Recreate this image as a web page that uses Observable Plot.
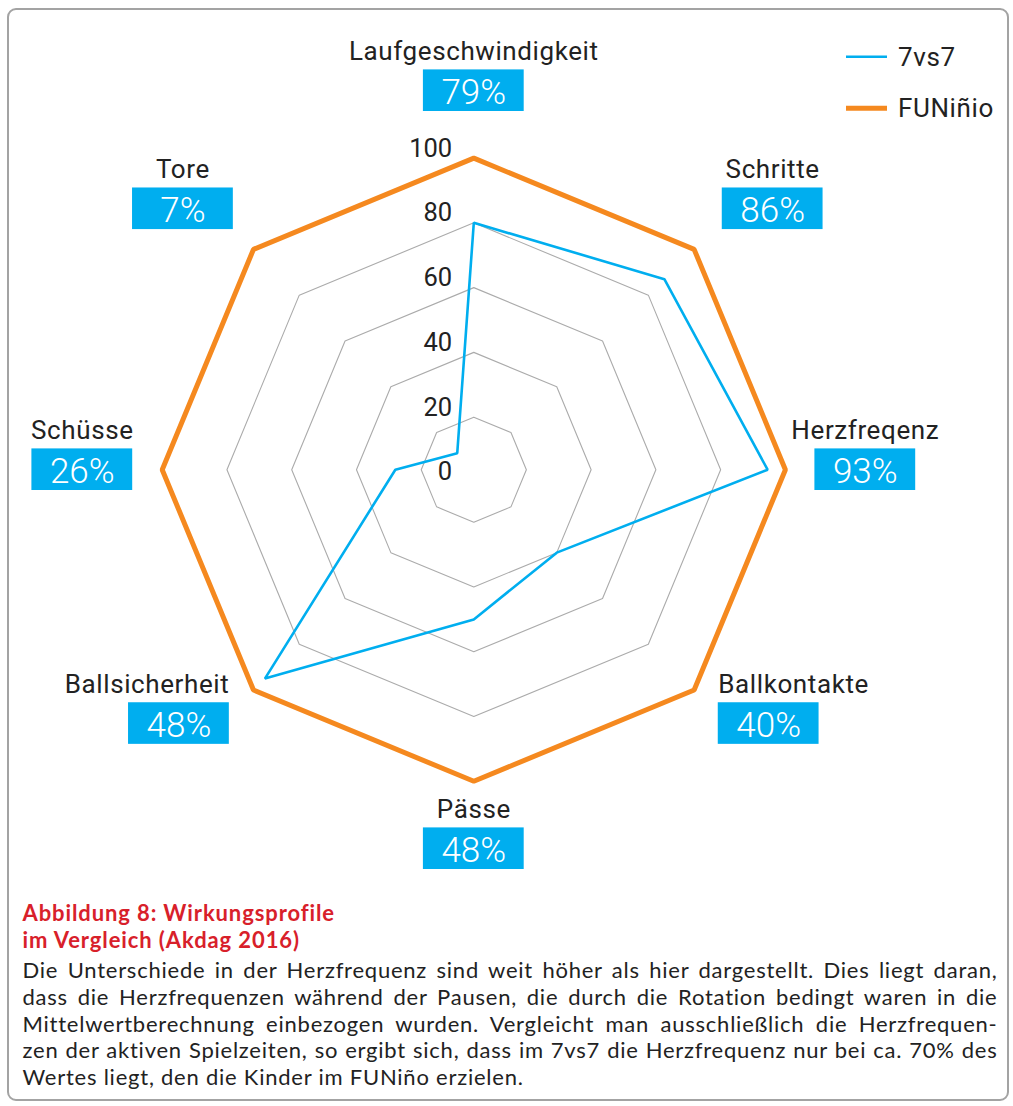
<!DOCTYPE html>
<html>
<head>
<meta charset="utf-8">
<script src="https://cdn.jsdelivr.net/npm/d3@7"></script>
<script src="https://cdn.jsdelivr.net/npm/@observablehq/plot@0.6"></script>
<style>
  body { margin: 0; background: #fff; }
  #wrap { position: relative; width: 1013px; height: 1106px; overflow: hidden; }
  .frame { position: absolute; left: 7px; top: 8px; width: 998px; height: 1089px;
           border: 2px solid #a3a3a3; border-radius: 9px; }
  #chart { position: absolute; left: 0; top: 0; }
  #caption { position: absolute; left: 22.5px; top: 900px; width: 975px; color: #222; }
  .red { color: #d8202a; font-family: Lato, "Open Sans", sans-serif; font-weight: 700;
         font-size: 22px; letter-spacing: 0.9px; line-height: 26.7px; white-space: nowrap; }
  .para { margin-top: 3.6px; font-family: Lato, Roboto, sans-serif;
          font-size: 22px; line-height: 26.75px; width: 975px; }
  .para div { text-align: justify; text-align-last: justify; white-space: nowrap; }
  .para div.last { text-align: left; text-align-last: left; }
  .measure { position: absolute; visibility: hidden; white-space: nowrap;
             font-family: Lato, Roboto, sans-serif; font-size: 22px; }
</style>
</head>
<body>
<div id="wrap">
  <div class="frame"></div>
  <div id="chart"></div>
  <div id="caption">
    <div class="red">Abbildung 8: Wirkungsprofile</div>
    <div class="red">im Vergleich (Akdag 2016)</div>
    <div class="para" id="para"></div>
  </div>
</div>
<script>
// ---- data ----
const categories = ["Laufgeschwindigkeit", "Schritte", "Herzfreqenz", "Ballkontakte", "Pässe", "Ballsicherheit", "Schüsse", "Tore"];
const values7vs7 = [80, 87, 94.5, 40, 50, 95, 28, 11];
const valuesFUNino = [100, 100, 100, 100, 100, 100, 100, 100];
const pctLabels = ["79%", "86%", "93%", "40%", "48%", "48%", "26%", "7%"];
const gridRings = [20, 40, 60, 80];
const tickValues = [0, 20, 40, 60, 80, 100];
const seriesNames = ["7vs7", "FUNiñio"];
const captionLines = [
  "Die Unterschiede in der Herzfrequenz sind weit höher als hier dargestellt. Dies liegt daran,",
  "dass die Herzfrequenzen während der Pausen, die durch die Rotation bedingt waren in die",
  "Mittelwertberechnung einbezogen wurden. Vergleicht man ausschließlich die Herzfrequen-",
  "zen der aktiven Spielzeiten, so ergibt sich, dass im 7vs7 die Herzfrequenz nur bei ca. 70% des",
  "Wertes liegt, den die Kinder im FUNiño erzielen."
];

// ---- styles ----
const BLUE = "#00aeef", ORANGE = "#f5891f", GRID = "#ababab", TEXT = "#222";
const W = 1013, H = 890, CX = 473.3, CY = 469.2;
const r = d3.scaleLinear([0, 100], [-12.2, 311.6]);
const ang = i => i * Math.PI / 4;
const px = (v, i) => r(v) * Math.sin(ang(i));
const py = (v, i) => r(v) * Math.cos(ang(i));

// label group anchor (box centre) around the web
function boxCenter(i) {
  const a = ang(i), s = Math.sin(a), c = Math.cos(a);
  const diag = Math.abs(Math.abs(s) - Math.abs(c)) < 0.1;
  const bx = s * (diag ? 417 : 391.5) + (diag && c > 0 ? 4 : 0);
  const by = c * (diag ? (c > 0 ? 369 : 359) : 379);
  const anchor = diag && c < 0 ? (s > 0 ? "start" : "end") : "middle";
  return {bx, by, anchor};
}

const series7 = categories.map((c, i) => ({c, i, v: values7vs7[i]}));
const seriesF = categories.map((c, i) => ({c, i, v: valuesFUNino[i]}));
const ringData = gridRings.flatMap(g => categories.map((c, i) => ({ring: g, i, v: g})));
const labelData = categories.map((c, i) => ({c, i, pct: pctLabels[i], ...boxCenter(i)}));

const plot = Plot.plot({
  width: W, height: H, margin: 0,
  x: {domain: [-CX, W - CX], range: [0, W], axis: null},
  y: {domain: [CY - H, CY], range: [H, 0], axis: null},
  style: {fontFamily: "Roboto, 'Noto Sans', sans-serif", background: "transparent"},
  marks: [
    Plot.line(ringData, {x: d => px(d.v, d.i), y: d => py(d.v, d.i), z: "ring",
      curve: "linear-closed", stroke: GRID, strokeWidth: 1.1}),
    Plot.line(seriesF, {x: d => px(d.v, d.i), y: d => py(d.v, d.i),
      curve: "linear-closed", stroke: ORANGE, strokeWidth: 5, strokeLinejoin: "miter"}),
    Plot.line(series7, {x: d => px(d.v, d.i), y: d => py(d.v, d.i),
      curve: "linear-closed", stroke: BLUE, strokeWidth: 2.6, strokeLinejoin: "miter"}),
    Plot.text(tickValues, {x: 0, y: d => r(d), text: d => String(d), dx: -21.6, dy: -1.5,
      textAnchor: "end", lineAnchor: "bottom", fontSize: 25.5, fill: TEXT}),
    Plot.rect(labelData, {x1: d => d.bx - 50.4, x2: d => d.bx + 50.4,
      y1: d => d.by - 20.8, y2: d => d.by + 20.8, fill: BLUE}),
    Plot.text(labelData, {x: d => d.bx + (d.anchor === "start" ? -50.4 : d.anchor === "end" ? 50.4 : 0),
      y: d => d.by + 31, text: "c", lineAnchor: "bottom",
      fontSize: 26, fill: TEXT}),
    Plot.text(labelData, {x: "bx", y: d => d.by - 13, text: "pct", lineAnchor: "bottom",
      fontSize: 35, fontWeight: 300, fill: "#fff"})
  ]
});
document.getElementById("chart").appendChild(plot);

// per-label text anchors and letter spacing for category labels
const svg = d3.select(plot);
svg.selectAll("g[aria-label='text']").filter((d, k) => k === 1)
  .attr("letter-spacing", "0.6px")
  .selectAll("text")
  .attr("text-anchor", (d, k) => labelData[k].anchor);

// legend
const lg = svg.append("g").attr("font-family", "Roboto, 'Noto Sans', sans-serif")
  .attr("font-size", 26).attr("letter-spacing", "0.6px").attr("text-anchor", "start").attr("fill", TEXT);
const legendItems = [{name: seriesNames[0], color: BLUE, w: 2.6}, {name: seriesNames[1], color: ORANGE, w: 5}];
legendItems.forEach((it, k) => {
  const y = 56.7 + k * 51.6;
  lg.append("line").attr("x1", 846).attr("x2", 887).attr("y1", y).attr("y2", y)
    .attr("stroke", it.color).attr("stroke-width", it.w);
  lg.append("text").attr("x", 898).attr("y", y + 8.8).text(it.name);
});

// caption paragraph: letter-spacing chosen so the widest line nearly fills the measure
const para = document.getElementById("para");
const meas = document.createElement("span");
meas.className = "measure";
document.body.appendChild(meas);
let maxW = 0, maxLen = 1;
captionLines.forEach(t => {
  meas.textContent = t;
  const w = meas.getBoundingClientRect().width;
  if (w > maxW) { maxW = w; maxLen = t.length; }
});
meas.remove();
const ls = Math.max(0, Math.min(1.5, (965 - maxW) / maxLen));
para.style.letterSpacing = ls + "px";
captionLines.forEach((t, k) => {
  const d = document.createElement("div");
  d.textContent = t;
  if (k === captionLines.length - 1) d.className = "last";
  para.appendChild(d);
});
</script>
</body>
</html>
